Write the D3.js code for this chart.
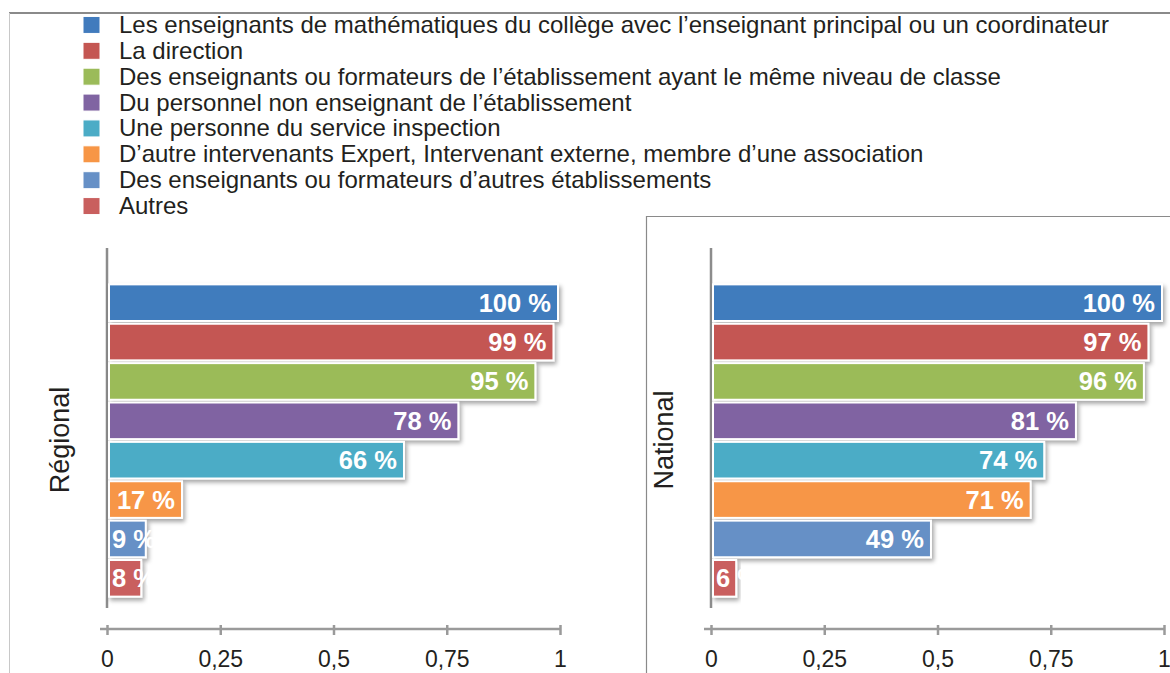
<!DOCTYPE html>
<html>
<head>
<meta charset="utf-8">
<script src="https://cdn.jsdelivr.net/npm/d3@7"></script>
<style>
  body { margin: 0; background: #fff; }
  svg { display: block; font-family: "Liberation Sans", Arial, Helvetica, sans-serif; }
</style>
</head>
<body>
<svg id="chart" width="1170" height="673"></svg>
<script>
// Categories of people the teachers work with
const categories = [
  "Les enseignants de mathématiques du collège avec l’enseignant principal ou un coordinateur",
  "La direction",
  "Des enseignants ou formateurs de l’établissement ayant le même niveau de classe",
  "Du personnel non enseignant de l’établissement",
  "Une personne du service inspection",
  "D’autre intervenants Expert, Intervenant externe, membre d’une association",
  "Des enseignants ou formateurs d’autres établissements",
  "Autres"
];
const colors = ["#417bbd", "#c45652", "#9bbb59", "#8064a2", "#4bacc6", "#f79646", "#6690c6", "#c95f5e"];

// Shares (0–1) per panel
const regionalValues = [1.00, 0.99, 0.95, 0.78, 0.66, 0.17, 0.09, 0.08];
const nationalValues = [1.00, 0.97, 0.96, 0.81, 0.74, 0.71, 0.49, 0.06];
const panelTitles = ["Régional", "National"];

// Axis ticks
const tickValues = [0, 0.25, 0.5, 0.75, 1];
const tickLabels = ["0", "0,25", "0,5", "0,75", "1"];

const svg = d3.select("#chart");

// Soft drop shadow under the bars
const defs = svg.append("defs");
const f = defs.append("filter").attr("id", "shadow")
  .attr("x", "-10%").attr("y", "-30%").attr("width", "130%").attr("height", "180%");
f.append("feGaussianBlur").attr("in", "SourceAlpha").attr("stdDeviation", 2.2).attr("result", "b");
f.append("feOffset").attr("in", "b").attr("dx", 2).attr("dy", 3).attr("result", "o");
f.append("feFlood").attr("flood-color", "#000").attr("flood-opacity", 0.35).attr("result", "c");
f.append("feComposite").attr("in", "c").attr("in2", "o").attr("operator", "in").attr("result", "s");
const m = f.append("feMerge");
m.append("feMergeNode").attr("in", "s");
m.append("feMergeNode").attr("in", "SourceGraphic");

// Frame lines
svg.append("line").attr("x1", 9).attr("x2", 1170).attr("y1", 13).attr("y2", 13)
  .attr("stroke", "#8a8a8a").attr("stroke-width", 2);
svg.append("line").attr("x1", 9.5).attr("x2", 9.5).attr("y1", 13).attr("y2", 673)
  .attr("stroke", "#c8c8c8").attr("stroke-width", 1);
svg.append("line").attr("x1", 646.5).attr("x2", 646.5).attr("y1", 216).attr("y2", 673)
  .attr("stroke", "#8a8a8a").attr("stroke-width", 1.2);
svg.append("line").attr("x1", 646).attr("x2", 1170).attr("y1", 216.5).attr("y2", 216.5)
  .attr("stroke", "#8a8a8a").attr("stroke-width", 1.2);

// Legend
const legend = svg.append("g").attr("transform", "translate(83,0)");
const ly = d3.scaleBand().domain(categories).range([12, 219]);
const items = legend.selectAll("g.item").data(categories).join("g").attr("class", "item")
  .attr("transform", d => `translate(0,${ly(d) + ly.bandwidth() / 2})`);
items.append("rect").attr("x", 0).attr("y", -8.5).attr("width", 17).attr("height", 17)
  .attr("fill", (d, i) => colors[i]).attr("stroke", "#fff").attr("stroke-width", 1);
items.append("text").attr("x", 36).attr("y", 8).attr("font-size", 24).attr("fill", "#231f20")
  .text(d => d);

// One horizontal bar panel
function drawPanel(values, title, x0) {
  const g = svg.append("g");
  const x = d3.scaleLinear().domain([0, 1]).range([x0, x0 + 453]);
  const y = d3.scaleBand().domain(categories).range([283, 598]).paddingInner(0.07).paddingOuter(0.035);

  // Vertical axis line
  g.append("line").attr("x1", x(0)).attr("x2", x(0))
    .attr("y1", y.range()[0] - 35).attr("y2", y.range()[1] + 10)
    .attr("stroke", "#8c8c8c").attr("stroke-width", 2.5);

  // Horizontal axis
  const axisY = 629;
  const ax = g.append("g").attr("transform", `translate(0,${axisY})`)
    .call(d3.axisBottom(x).tickValues(tickValues).tickFormat((d, i) => tickLabels[i]).tickSize(6).tickPadding(16));
  ax.select(".domain").remove();
  ax.insert("line", ":first-child").attr("x1", x(0) - 7).attr("x2", x(1)).attr("y1", 0).attr("y2", 0)
    .attr("stroke", "#9a9a9a").attr("stroke-width", 2.5);
  ax.selectAll(".tick line").attr("y1", -4).attr("y2", 6).attr("stroke", "#9a9a9a").attr("stroke-width", 2.5);
  ax.selectAll(".tick text").attr("font-size", 23).attr("fill", "#231f20")
    .attr("font-family", "Liberation Sans, Arial, sans-serif");

  // Bars
  const bars = g.selectAll("g.bar").data(values).join("g").attr("class", "bar");
  bars.append("rect")
    .attr("x", x(0) + 2)
    .attr("y", (d, i) => y(categories[i]))
    .attr("width", d => x(d) - x(0) - 4)
    .attr("height", y.bandwidth())
    .attr("fill", (d, i) => colors[i])
    .attr("stroke", "#fff").attr("stroke-width", 2)
    .attr("filter", "url(#shadow)");

  // Value labels
  bars.append("text")
    .attr("y", (d, i) => y(categories[i]) + y.bandwidth() / 2 + 9)
    .attr("font-size", 25.5).attr("font-weight", "bold").attr("fill", "#fff")
    .text(d => Math.round(d * 100) + " %")
    .each(function (d) {
      const w = this.getComputedTextLength();
      const barW = x(d) - x(0) - 4;
      const t = d3.select(this);
      if (w + 12 > barW) t.attr("x", x(0) + 5).attr("text-anchor", "start");
      else t.attr("x", x(d) - 9).attr("text-anchor", "end");
    });

  // Panel title
  g.append("text")
    .attr("transform", `translate(${x0 - 38},440) rotate(-90)`)
    .attr("text-anchor", "middle").attr("font-size", 27).attr("fill", "#231f20")
    .text(title);
}

drawPanel(regionalValues, panelTitles[0], 107);
drawPanel(nationalValues, panelTitles[1], 711);
</script>
</body>
</html>
